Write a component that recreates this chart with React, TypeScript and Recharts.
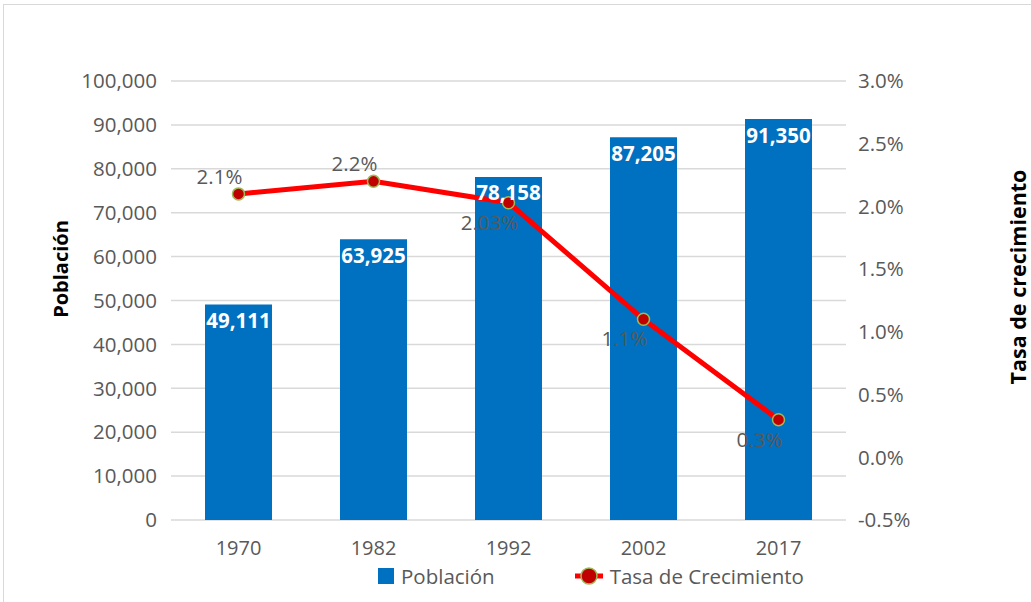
import React from 'react';
import {
    ComposedChart,
    Bar,
    Line,
    XAxis,
    YAxis,
    CartesianGrid,
    Legend,
    LabelList
} from 'recharts';

// Census years and values
const years = ['1970', '1982', '1992', '2002', '2017'];
const poblacion = [49111, 63925, 78158, 87205, 91350];
const tasaCrecimiento = [2.1, 2.2, 2.03, 1.1, 0.3];
const tasaLabels = ['2.1%', '2.2%', '2.03%', '1.1%', '0.3%'];
const poblacionTicks = [0, 10000, 20000, 30000, 40000, 50000, 60000, 70000, 80000, 90000, 100000];
const tasaTicks = [-0.5, 0, 0.5, 1, 1.5, 2, 2.5, 3];

const data = years.map((year, i) => ({
    year,
    poblacion: poblacion[i],
    tasa: tasaCrecimiento[i],
    tasaLabel: tasaLabels[i]
}));

const FONT = '"Open Sans", Lato, sans-serif';
const GREY = '#595959';
const BLUE = '#0070C0';
const RED = '#FF0000';
const DOT_FILL = '#C00000';
const DOT_STROKE = '#9BBB59';
const FS = 20;

// first two labels sit above the point, the rest below (as in the original)
const labelBelow = [false, false, true, true, true];

const renderTasaLabel = (props: any) => {
    const vb = props.viewBox ?? {};
    const x = props.x ?? vb.x;
    const y = props.y ?? vb.y;
    const below = labelBelow[props.index] ?? false;
    return (
        <text
            x={x - 19}
            y={below ? y + 19 : y - 18}
            textAnchor="middle"
            dominantBaseline="central"
            fill={GREY}
            fontSize={20.5}
        >
            {props.value}
        </text>
    );
};

const renderLegend = (props: any) => {
    const items = props.payload || [];
    return (
        <div style={{ display: 'flex', alignItems: 'center', fontSize: 20.5, color: GREY, fontFamily: FONT }}>
            {items.map((entry: any, i: number) =>
                entry.type === 'line' ? (
                    <span key={i} style={{ display: 'flex', alignItems: 'center', marginLeft: 80 }}>
                        <svg width={28} height={20} style={{ marginRight: 7 }}>
                            <line x1={0} y1={10} x2={28} y2={10} stroke={RED} strokeWidth={5} />
                            <circle cx={14} cy={10} r={8} fill={DOT_FILL} stroke={DOT_STROKE} strokeWidth={1.5} />
                        </svg>
                        {entry.value}
                    </span>
                ) : (
                    <span key={i} style={{ display: 'flex', alignItems: 'center' }}>
                        <span style={{ display: 'inline-block', width: 16, height: 16, background: BLUE, marginRight: 7 }} />
                        {entry.value}
                    </span>
                )
            )}
        </div>
    );
};

const App: React.FC = () => {
    return (
        <div style={{ position: 'absolute', left: 0, top: 0, width: 1031, height: 602, overflow: 'hidden', background: '#fff' }}>
            <div style={{ position: 'absolute', left: 3, top: 4, width: 1100, height: 700, border: '1px solid #d9d9d9' }} />
            <div style={{ position: 'absolute', left: 0, top: 0 }}>
                <ComposedChart
                    width={1031}
                    height={602}
                    data={data}
                    margin={{ top: 81, right: 0, bottom: 52, left: 0 }}
                    style={{ fontFamily: FONT }}
                >
                    <CartesianGrid yAxisId="left" vertical={false} stroke="#d9d9d9" strokeWidth={1.5} />
                    <XAxis
                        dataKey="year"
                        axisLine={false}
                        tickLine={false}
                        tickSize={0}
                        tickMargin={21}
                        height={30}
                        tick={{ fill: GREY, fontSize: FS }}
                    />
                    <YAxis
                        yAxisId="left"
                        orientation="left"
                        width={171}
                        domain={[0, 100000]}
                        ticks={poblacionTicks}
                        interval={0}
                        axisLine={false}
                        tickLine={false}
                        tickSize={0}
                        tickMargin={14}
                        tick={{ fill: GREY, fontSize: 20.5 }}
                        tickFormatter={(v: number) => v.toLocaleString('en-US')}
                        label={{
                            content: () => (
                                <text
                                    transform="translate(60, 269) rotate(-90)"
                                    textAnchor="middle"
                                    dominantBaseline="central"
                                    fontSize={FS}
                                    fontWeight="bold"
                                    fill="#000"
                                >
                                    Población
                                </text>
                            )
                        }}
                    />
                    <YAxis
                        yAxisId="right"
                        orientation="right"
                        width={185}
                        domain={[-0.5, 3]}
                        ticks={tasaTicks}
                        interval={0}
                        axisLine={false}
                        tickLine={false}
                        tickSize={0}
                        tickMargin={12}
                        tick={{ fill: GREY, fontSize: 20.5 }}
                        tickFormatter={(v: number) => `${v.toFixed(1)}%`}
                        label={{
                            content: () => (
                                <text
                                    transform="translate(1017, 277) rotate(-90)"
                                    textAnchor="middle"
                                    dominantBaseline="central"
                                    fontSize={21.5}
                                    fontWeight="bold"
                                    fill="#000"
                                >
                                    Tasa de crecimiento
                                </text>
                            )
                        }}
                    />
                    <Legend
                        verticalAlign="middle"
                        align="center"
                        layout="horizontal"
                        content={renderLegend}
                        wrapperStyle={{ left: 378, top: 562, width: 540 }}
                    />
                    <Bar
                        yAxisId="left"
                        dataKey="poblacion"
                        name="Población"
                        fill={BLUE}
                        barSize={67}
                        isAnimationActive={false}
                    >
                        <LabelList
                            dataKey="poblacion"
                            position="insideTop"
                            offset={9}
                            fill="#fff"
                            fontSize={20.5}
                            fontWeight="bold"
                            formatter={(v: any) => Number(v).toLocaleString('en-US')}
                        />
                    </Bar>
                    <Line
                        yAxisId="right"
                        type="linear"
                        dataKey="tasa"
                        name="Tasa de Crecimiento"
                        stroke={RED}
                        strokeWidth={5}
                        dot={{ r: 6, fill: DOT_FILL, stroke: DOT_STROKE, strokeWidth: 1.5 }}
                        activeDot={false}
                        isAnimationActive={false}
                    >
                        <LabelList dataKey="tasaLabel" content={renderTasaLabel} />
                    </Line>
                </ComposedChart>
            </div>
        </div>
    );
};

export default App;
